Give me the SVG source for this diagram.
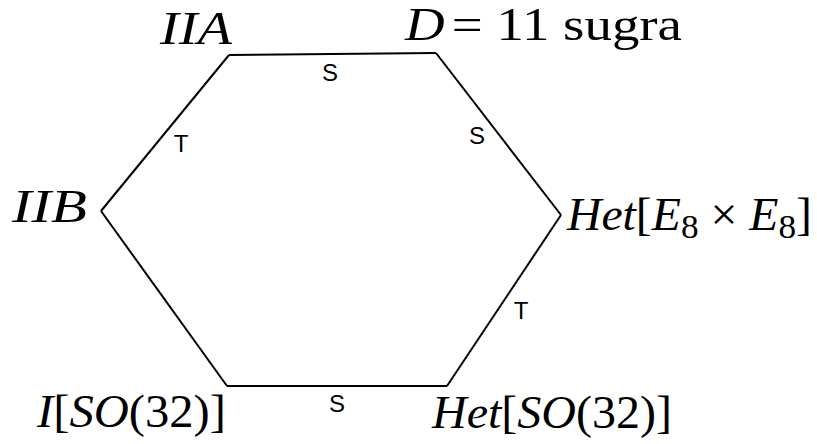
<svg xmlns="http://www.w3.org/2000/svg" width="817" height="444" viewBox="0 0 817 444">
<style>
.m{font-family:"Liberation Serif","DejaVu Serif",serif;font-size:46px;fill:#000}
.i{font-style:italic}
.lab{font-family:"Liberation Sans",Arial,sans-serif;font-size:24px;fill:#000;text-anchor:middle}
.e{fill:none;stroke:#000;stroke-width:2;stroke-linejoin:miter}
</style>
<rect width="817" height="444" fill="#fff"/>
<g id="connectors">
<line class="e" x1="229" y1="55" x2="436" y2="53"/>
<line class="e" x1="436" y1="53" x2="561" y2="215"/>
<line class="e" x1="561" y1="215" x2="447" y2="386"/>
<line class="e" x1="447" y1="386" x2="227" y2="386"/>
<line class="e" x1="227" y1="386" x2="101" y2="211"/>
<line class="e" x1="101" y1="211" x2="229" y2="55"/>
<text class="lab" x="330" y="81">S</text>
<text class="lab" x="477" y="144">S</text>
<text class="lab" x="181" y="152">T</text>
<text class="lab" x="521" y="319">T</text>
<text class="lab" x="337" y="412">S</text>
</g>
<g id="IIA"><text class="m i" x="160" y="44" textLength="72" lengthAdjust="spacingAndGlyphs">IIA</text></g>
<g id="D11"><text class="m" x="405" y="40" font-size="42" textLength="277" lengthAdjust="spacingAndGlyphs"><tspan class="i">D</tspan><tspan dx="6">= 11 sugra</tspan></text></g>
<g id="IIB"><text class="m i" x="12" y="222" textLength="75" lengthAdjust="spacingAndGlyphs">IIB</text></g>
<g id="HetE8"><text class="m" x="567" y="230" textLength="245" lengthAdjust="spacingAndGlyphs"><tspan class="i">Het</tspan>[<tspan class="i">E</tspan><tspan font-size="34" dy="8">8</tspan><tspan dy="-8"> × </tspan><tspan class="i">E</tspan><tspan font-size="34" dy="8">8</tspan><tspan dy="-8">]</tspan></text></g>
<g id="ISO32"><text class="m" x="37" y="427" textLength="189" lengthAdjust="spacingAndGlyphs"><tspan class="i">I</tspan>[<tspan class="i">SO</tspan>(32)]</text></g>
<g id="HetSO32"><text class="m" x="432" y="428" textLength="240" lengthAdjust="spacingAndGlyphs"><tspan class="i">Het</tspan>[<tspan class="i">SO</tspan>(32)]</text></g>
</svg>
